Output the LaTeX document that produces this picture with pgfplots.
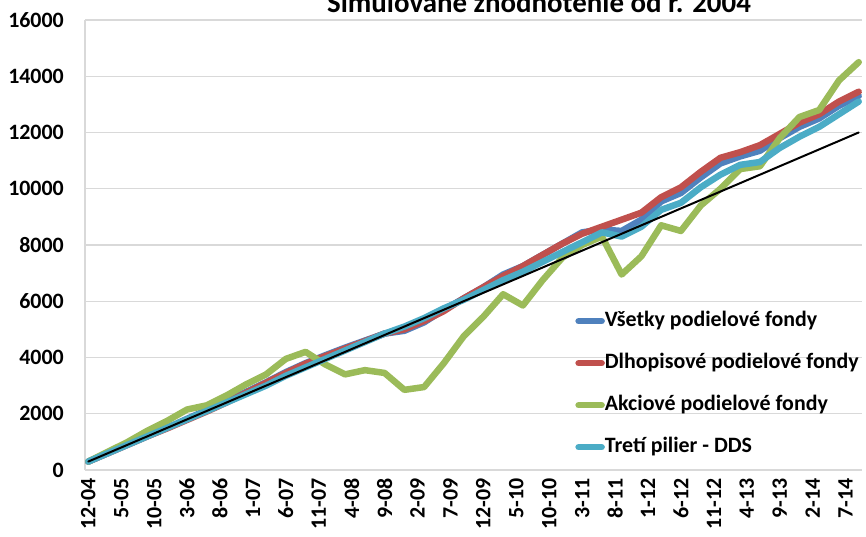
\documentclass[border=0pt]{standalone}
\usepackage{pgfplots}
\pgfplotsset{compat=1.18}
\usepackage{pgfplotstable}
\usepackage{fontspec}
\setmainfont{Carlito}
\definecolor{cBlue}{HTML}{4F81BD}
\definecolor{cRed}{HTML}{C0504D}
\definecolor{cGreen}{HTML}{9BBB59}
\definecolor{cCyan}{HTML}{4BACC6}
\definecolor{cGrid}{HTML}{D9D9D9}

\pgfplotstableread{
m black blue red green cyan
0 300 300 300 300 300
3 600 600 600 650 600
6 900 900 900 1000 900
9 1200 1200 1200 1400 1200
12 1500 1500 1480 1750 1500
15 1800 1820 1780 2150 1800
18 2100 2130 2080 2300 2100
21 2400 2450 2400 2650 2400
24 2700 2780 2750 3050 2700
27 3000 3120 3100 3400 3000
30 3300 3480 3450 3950 3350
33 3600 3800 3780 4200 3650
36 3900 4080 4050 3750 3950
39 4200 4350 4320 3400 4250
42 4500 4600 4580 3550 4550
45 4800 4850 4850 3450 4850
48 5100 4950 5000 2850 5100
51 5400 5250 5300 2950 5400
54 5700 5700 5650 3800 5750
57 6000 6100 6100 4750 6050
60 6300 6500 6500 5450 6400
63 6600 6950 6900 6250 6750
66 6900 7250 7250 5850 7050
69 7200 7650 7650 6750 7400
72 7500 8050 8050 7550 7750
75 7800 8450 8400 8000 8100
78 8100 8550 8650 8300 8450
81 8400 8500 8900 6950 8300
84 8700 8900 9150 7600 8650
87 9000 9550 9700 8700 9250
90 9300 9850 10050 8500 9500
93 9600 10400 10600 9400 10050
96 9900 10900 11100 10000 10500
99 10200 11150 11300 10700 10850
102 10500 11350 11550 10800 10950
105 10800 11800 11950 11800 11450
108 11100 12200 12350 12550 11850
111 11400 12500 12650 12800 12200
114 11700 12950 13100 13850 12650
117 12000 13300 13450 14500 13100
}\data

\begin{document}
\begin{tikzpicture}[x=1bp,y=1bp]
\begin{axis}[
  at={(85bp,67bp)}, anchor=south west,
  scale only axis, width=777bp, height=450bp,
  xmin=-0.5, xmax=117.5, ymin=0, ymax=16000,
  xtick={0,5,...,115},
  xticklabels={12-04,5-05,10-05,3-06,8-06,1-07,6-07,11-07,4-08,9-08,2-09,7-09,12-09,5-10,10-10,3-11,8-11,1-12,6-12,11-12,4-13,9-13,2-14,7-14},
  ytick={0,2000,...,16000},
  scaled y ticks=false,
  /pgf/number format/1000 sep={},
  /pgf/number format/assume math mode=true,
  major tick length=0pt,
  axis x line*=bottom, axis y line*=left,
  axis line style={draw=cGrid, line width=1.2bp, -},
  ymajorgrids, grid style={draw=cGrid, line width=1.2bp},
  ticklabel style={font=\fontsize{22}{26}\selectfont\bfseries},
  xticklabel style={rotate=90, anchor=east, inner sep=0pt, xshift=-8bp},
  yticklabel style={anchor=east, inner sep=0pt, xshift=-21bp},
  legend cell align=left,
  legend style={at={(0.627,0.358)}, anchor=north west, draw=none, fill=none,
    font=\fontsize{22}{26}\selectfont\bfseries,
    nodes={inner sep=0pt, text height=15bp, text depth=5bp},
    row sep=22bp, column sep=0bp},
  legend image code/.code={\draw[#1, line width=6.5bp, line cap=round] (0bp,0bp) -- (23bp,0bp);},
  every axis plot/.append style={line join=round, line cap=round},
]
\addplot[cBlue, line width=6.5bp] table[x=m, y=blue] {\data};
\addlegendentry{Všetky podielové fondy}
\addplot[cRed, line width=6.5bp] table[x=m, y=red] {\data};
\addlegendentry{Dlhopisové podielové fondy}
\addplot[cGreen, line width=6.5bp] table[x=m, y=green] {\data};
\addlegendentry{Akciové podielové fondy}
\addplot[cCyan, line width=6.5bp] table[x=m, y=cyan] {\data};
\addlegendentry{Tretí pilier - DDS}
\addplot[black, line width=2bp, forget plot] table[x=m, y=black] {\data};
\end{axis}
\node[font=\fontsize{29}{34}\selectfont\bfseries, anchor=base] at (539bp,524bp) {Simulované zhodnotenie od r. 2004};
\pgfresetboundingbox
\path[use as bounding box] (0,0) rectangle (866bp,537bp);
\end{tikzpicture}
\end{document}
